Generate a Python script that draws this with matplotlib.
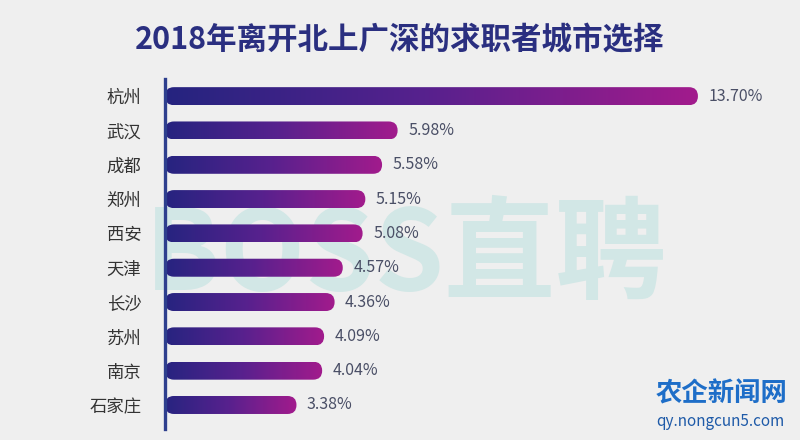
import numpy as np
import matplotlib
matplotlib.use("Agg")
import matplotlib.pyplot as plt
from matplotlib.patches import FancyBboxPatch
from matplotlib.colors import LinearSegmentedColormap

plt.rcParams['font.family'] = ['Noto Sans CJK SC', 'DejaVu Sans']

title = "2018年离开北上广深的求职者城市选择"
cities = ["杭州", "武汉", "成都", "郑州", "西安", "天津", "长沙", "苏州", "南京", "石家庄"]
values = [13.70, 5.98, 5.58, 5.15, 5.08, 4.57, 4.36, 4.09, 4.04, 3.38]

W, H, DPI = 800, 440, 100
fig = plt.figure(figsize=(W / DPI, H / DPI), dpi=DPI, facecolor="#efefef")

ax_left_px, ax_right_px = 165, 790
ax_top_px, ax_bot_px = 79, 429
ax = fig.add_axes([ax_left_px / W, 1 - ax_bot_px / H,
                   (ax_right_px - ax_left_px) / W, (ax_bot_px - ax_top_px) / H])
ax.set_facecolor("none")

px_per_x = 38.9
xmax = (ax_right_px - ax_left_px) / px_per_x
ax.set_xlim(0, xmax)
ax.set_ylim(9.7, -0.5)
px_per_y = (ax_bot_px - ax_top_px) / 10.2

for s in ["top", "right", "bottom"]:
    ax.spines[s].set_visible(False)
ax.spines["left"].set_color("#2e3f8e")
ax.spines["left"].set_linewidth(2.4)
ax.spines["left"].set_zorder(5)
ax.set_xticks([])
ax.set_yticks(range(len(cities)))
ax.set_yticklabels(cities, fontsize=12.5, color="#333333")
ax.tick_params(axis="y", length=0, pad=17)

cmap = LinearSegmentedColormap.from_list("g", ["#24247f", "#58218e", "#a21b8c"])
grad = np.linspace(0, 1, 256).reshape(1, -1)

bar_h_px = 18
bh = bar_h_px / px_per_y
r_px = bar_h_px / 2
r_x = r_px / px_per_x
aspect = px_per_x / px_per_y

# watermark (behind bars and labels)
ax.text(0.385, 0.49, "BOSS直聘", transform=ax.transAxes, fontsize=80, fontweight="bold",
        color="#d2e7e6", ha="center", va="center", zorder=1, clip_on=False)

for i, v in enumerate(values):
    patch = FancyBboxPatch((0, i - bh / 2), v, bh,
                           boxstyle=f"round,pad=0,rounding_size={r_x}",
                           mutation_aspect=aspect,
                           facecolor="none", edgecolor="none", transform=ax.transData)
    ax.add_patch(patch)
    im = ax.imshow(grad, cmap=cmap, aspect="auto",
                   extent=[-0.1, v, i + bh / 2, i - bh / 2], zorder=3)
    im.set_clip_path(patch)
    ax.text(v + 0.27, i, f"{v:.2f}%", va="center", ha="left",
            fontsize=11.5, color="#4a4f66", zorder=4)

ax.set_xlim(0, xmax)
ax.set_ylim(9.7, -0.5)

fig.text(0.5, 1 - 40 / H, title, fontsize=22, fontweight="bold", color="#2a2f80",
         ha="center", va="center")

# source watermark bottom right
fig.text(0.82, 1 - 394 / H, "农企新闻网", fontsize=19, fontweight="bold", color="#1e6ec8",
         ha="left", va="center", zorder=6)
fig.text(0.82, 1 - 421 / H, "qy.nongcun5.com", fontsize=11, color="#1e5aa8",
         ha="left", va="center", zorder=6)

fig.savefig("out.png", dpi=DPI, facecolor=fig.get_facecolor())
